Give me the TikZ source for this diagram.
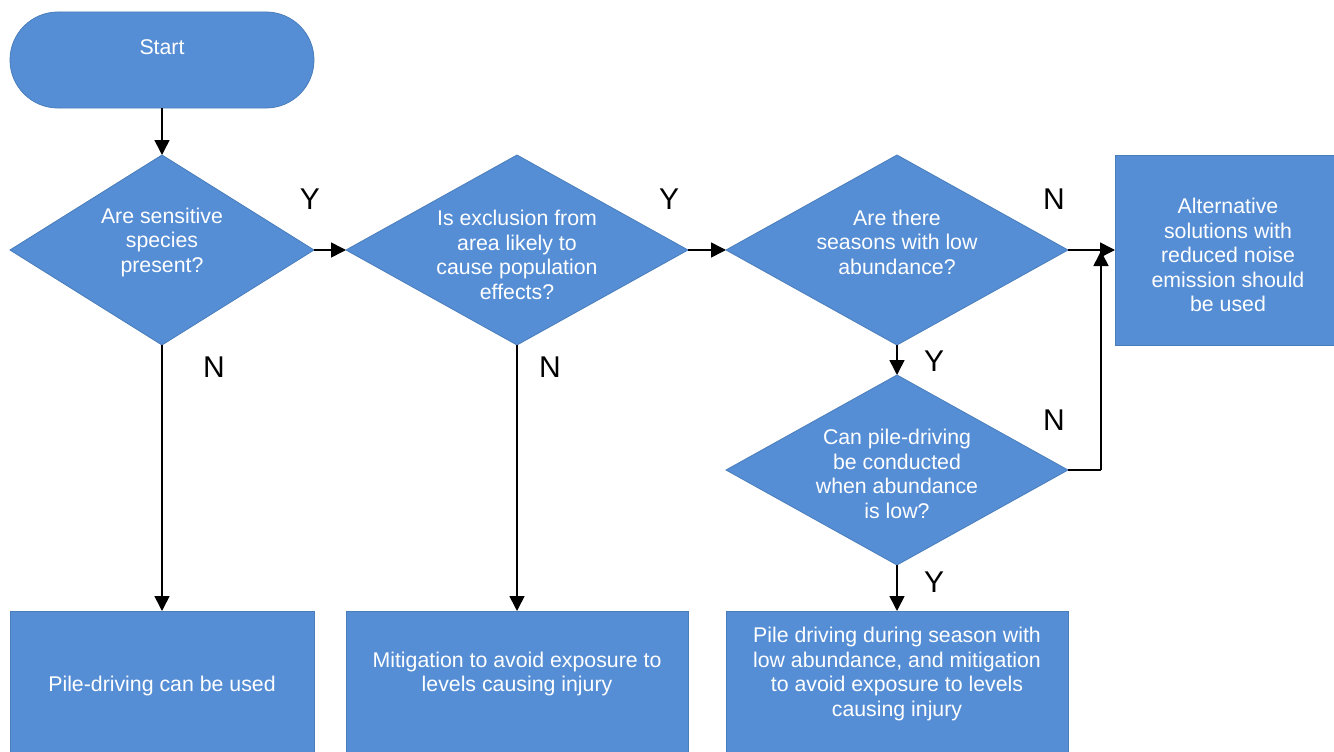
\documentclass[tikz,border=0pt]{standalone}
\usepackage{fontspec}
\setmainfont{Liberation Sans}
\usetikzlibrary{shapes.geometric,arrows.meta}
\definecolor{boxfill}{RGB}{85,142,213}
\definecolor{boxline}{RGB}{74,126,187}
\tikzset{
  shp/.style={fill=boxfill,draw=boxline,line width=0.8pt,inner sep=0pt,outer sep=0pt},
  dia/.style={shp,diamond},
  rbox/.style={shp,rectangle},
  txt/.style={text=white,align=center,font=\fontsize{21.3}{24.5}\selectfont,inner sep=0pt},
  lbl/.style={text=black,font=\fontsize{30}{36}\selectfont,inner sep=0pt},
  arr/.style={draw=black,line width=1.6pt,-{Triangle[length=15pt,width=15pt]}},
  ln/.style={draw=black,line width=1.6pt}
}
\begin{document}
\begin{tikzpicture}[x=1pt,y=-1pt]
\useasboundingbox (0,0) rectangle (1334,752);
\clip (0,0) rectangle (1334,752);
% shapes
\node[rbox,rounded corners=48pt,minimum width=304pt,minimum height=96pt] (start) at (162,60) {};
\node[dia,minimum width=304pt,minimum height=190pt] (d1) at (162,250) {};
\node[dia,minimum width=342pt,minimum height=190pt] (d2) at (517,250) {};
\node[dia,minimum width=342pt,minimum height=190pt] (d3) at (897,250) {};
\node[dia,minimum width=342pt,minimum height=190pt] (d4) at (897,470) {};
\node[rbox,minimum width=220pt,minimum height=190pt] (alt) at (1225,250) {};
\node[rbox,minimum width=304pt,minimum height=150pt] (b1) at (162,686) {};
\node[rbox,minimum width=342pt,minimum height=150pt] (b2) at (517,686) {};
\node[rbox,minimum width=342pt,minimum height=150pt] (b3) at (897,686) {};
% texts
\node[txt] (tstart) at (162,47.5) {Start};
\node[txt] (t1) at (162,242) {Are sensitive\\species\\present?};
\node[txt] (t2) at (517,255) {Is exclusion from\\area likely to\\cause population\\effects?};
\node[txt] (t3) at (897,242) {Are there\\seasons with low\\abundance?};
\node[txt] (t4) at (897,474) {Can pile-driving\\be conducted\\when abundance\\is low?};
\node[txt] (talt) at (1228,255) {Alternative\\solutions with\\reduced noise\\emission should\\be used};
\node[txt] (tb1) at (162,686) {Pile-driving can be used};
\node[txt] (tb2) at (517,674) {Mitigation to avoid exposure to\\levels causing injury};
\node[txt] (tb3) at (897,674) {Pile driving during season with\\low abundance, and mitigation\\to avoid exposure to levels\\causing injury};
% connectors
\draw[arr] (start.south) -- (d1.north);
\draw[arr] (d1.east) -- (d2.west);
\draw[arr] (d2.east) -- (d3.west);
\draw[arr] (d3.east) -- (alt.west);
\draw[arr] (d3.south) -- (d4.north);
\draw[arr] (d1.south) -- (b1.north);
\draw[arr] (d2.south) -- (b2.north);
\draw[arr] (d4.south) -- (b3.north);
\coordinate (c1) at (1101,470);
\coordinate (c2) at (1101,251);
\draw[ln] (d4.east) -- (c1);
\draw[arr] (c1) -- (c2);
% labels
\node[lbl] (y1) at (310,199) {Y};
\node[lbl] (y2) at (669,199) {Y};
\node[lbl] (n3) at (1054,199) {N};
\node[lbl] (n1) at (214,367) {N};
\node[lbl] (n2) at (550,367) {N};
\node[lbl] (y3) at (934,361) {Y};
\node[lbl] (n4) at (1054,420) {N};
\node[lbl] (y4) at (934,582) {Y};
\end{tikzpicture}
\end{document}
